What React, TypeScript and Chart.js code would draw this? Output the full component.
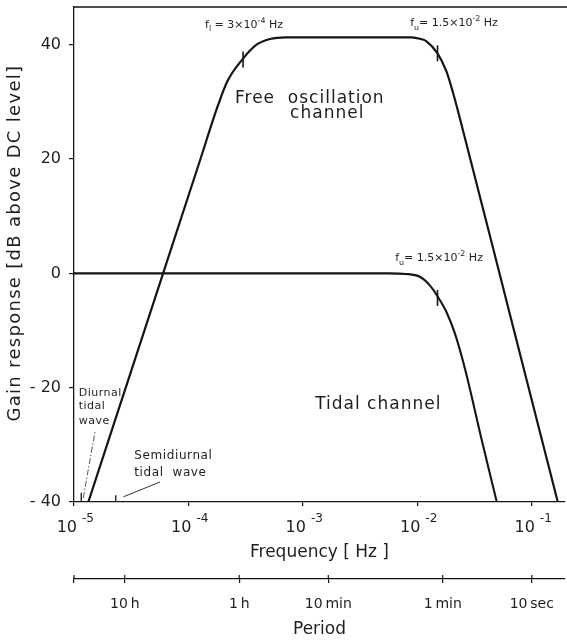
import React, { useEffect, useRef } from 'react';
import { Chart, registerables } from 'chart.js';

Chart.register(...registerables);

const FONT = "'DejaVu Sans', sans-serif";
const INK = '#151515';
const TEXT = '#1e1e1e';

const X_MIN = 1e-5;
const X_MAX = 0.195;
const Y_MIN = -40;
const Y_MAX = 46.6;

// Free oscillation channel (frequency in Hz, gain in dB)
const freeFreq = [1.334e-5, 5.012e-5, 1.259e-4, 1.82e-4, 2.188e-4, 2.951e-4, 3.936e-4, 5.152e-4, 7.079e-4, 8.913e-3, 1.072e-2, 1.202e-2, 1.5e-2, 1.799e-2, 2.056e-2, 2.432e-2, 6.31e-2, 0.1687];
const freeGain = [-40, -4.8, 19.7, 29.5, 33.6, 37.4, 40.0, 41.0, 41.3, 41.3, 41.0, 40.6, 38.5, 35.3, 31.5, 26.0, -6.5, -40];

// Tidal channel
const tidalFreq = [1e-5, 5.623e-3, 7.943e-3, 1.052e-2, 1.285e-2, 1.521e-2, 1.799e-2, 2.128e-2, 2.6e-2, 3.656e-2, 4.943e-2];
const tidalGain = [0, 0, -0.1, -0.6, -2.1, -4.2, -6.8, -10.5, -16.6, -29.2, -40];

// Corner-frequency markers
const markerFreq = [3e-4, 1.5e-2, 1.5e-2];
const markerGain = [37.4, 38.5, -4.3];

// Diurnal / semidiurnal tidal wave ticks
const tideFreq = [1.157e-5, 2.315e-5];
const tideTickTop = [-38.4, -38.8];

// Pointer lines
const diurnalPtrFreq = [1.205e-5, 1.535e-5];
const diurnalPtrGain = [-39.3, -27.4];
const semiPtrFreq = [2.7e-5, 5.64e-5];
const semiPtrGain = [-39.1, -36.5];

// Axes
const xTickValues = [1e-5, 1e-4, 1e-3, 1e-2, 1e-1];
const xTickExps = ['-5', '-4', '-3', '-2', '-1'];
const yTickValues = [-40, -20, 0, 20, 40];
const yTickLabels = ['- 40', '- 20', '0', '20', '40'];
const periodTickValues = [1e-5, 1 / 36000, 1 / 3600, 1 / 600, 1 / 60, 1 / 10];
const periodTickLabels = ['', '10\u2009h', '1\u2009h', '10\u2009min', '1\u2009min', '10\u2009sec'];

type Part = [string, number]; // 0 normal, 1 sub, 2 sup
type Note = { f: number; g: number; parts: Part[]; size: number; ls: number };

const notes: Note[] = [
  { f: 1.396e-4, g: 43.0, parts: [['f', 0], ['l', 1], [' = 3×10', 0], ['-4', 2], [' Hz', 0]], size: 11, ls: 0 },
  { f: 8.65e-3, g: 43.2, parts: [['f', 0], ['u', 1], ['= 1.5×10', 0], ['-2', 2], [' Hz', 0]], size: 11, ls: 0 },
  { f: 6.4e-3, g: 2.15, parts: [['f', 0], ['u', 1], ['= 1.5×10', 0], ['-2', 2], [' Hz', 0]], size: 11, ls: 0 },
  { f: 2.55e-4, g: 29.8, parts: [['Free  oscillation', 0]], size: 17, ls: 1 },
  { f: 7.73e-4, g: 27.2, parts: [['channel', 0]], size: 17, ls: 1 },
  { f: 1.28e-3, g: -23.7, parts: [['Tidal channel', 0]], size: 17, ls: 1 },
  { f: 1.099e-5, g: -21.4, parts: [['Diurnal', 0]], size: 11, ls: 0.5 },
  { f: 1.099e-5, g: -23.7, parts: [['tidal', 0]], size: 11, ls: 0.5 },
  { f: 1.099e-5, g: -26.3, parts: [['wave', 0]], size: 11, ls: 0.5 },
  { f: 3.365e-5, g: -32.4, parts: [['Semidiurnal', 0]], size: 12, ls: 0.6 },
  { f: 3.365e-5, g: -35.4, parts: [['tidal  wave', 0]], size: 12, ls: 0.6 },
];

function setLS(ctx: any, v: number) {
  try { ctx.letterSpacing = `${v}px`; } catch (e) { /* ignore */ }
}

function drawRich(ctx: CanvasRenderingContext2D, x: number, y: number, parts: Part[], size: number) {
  let cx = x;
  for (const [t, mode] of parts) {
    const s = mode ? size * 0.72 : size;
    const dy = mode === 1 ? size * 0.35 : mode === 2 ? -size * 0.45 : 0;
    ctx.font = `${s}px ${FONT}`;
    ctx.fillText(t, cx, y + dy);
    cx += ctx.measureText(t).width;
  }
}

const decorPlugin = {
  id: 'decor',
  afterDraw(chart: any) {
    const { ctx, chartArea, scales } = chart;
    const xs = scales.x;
    const ys = scales.y;
    const ps = scales.period;
    ctx.save();
    // top frame line
    ctx.strokeStyle = INK;
    ctx.lineWidth = 1.3;
    ctx.beginPath();
    ctx.moveTo(chartArea.left, chartArea.top);
    ctx.lineTo(chartArea.right + 2, chartArea.top);
    ctx.stroke();
    // upward half of period ticks + period labels
    ctx.lineWidth = 1.2;
    ctx.fillStyle = TEXT;
    ctx.textAlign = 'center';
    ctx.textBaseline = 'alphabetic';
    ctx.font = `14px ${FONT}`;
    periodTickValues.forEach((v, i) => {
      const px = ps.getPixelForValue(v);
      ctx.beginPath();
      ctx.moveTo(px, ps.top - 4);
      ctx.lineTo(px, ps.top);
      ctx.stroke();
      ctx.fillText(periodTickLabels[i], px, ps.top + 29.3);
    });
    // frequency tick labels with superscripts
    xTickValues.forEach((v, i) => {
      const px = xs.getPixelForValue(v);
      ctx.font = `16px ${FONT}`;
      ctx.textAlign = 'right';
      ctx.fillText('10', px + 3, xs.top + 29.7);
      ctx.textAlign = 'left';
      ctx.font = `12px ${FONT}`;
      ctx.fillText(xTickExps[i], px + 8, xs.top + 19.7);
    });
    // y axis title
    ctx.save();
    ctx.translate(15.5, ys.getPixelForValue(5.3));
    ctx.rotate(-Math.PI / 2);
    ctx.textAlign = 'center';
    ctx.textBaseline = 'middle';
    ctx.font = `18px ${FONT}`;
    setLS(ctx, 1.3);
    ctx.fillText('Gain response [dB above DC level]', 0, 0);
    setLS(ctx, 0);
    ctx.restore();
    // annotations
    ctx.textAlign = 'left';
    ctx.textBaseline = 'alphabetic';
    for (const n of notes) {
      setLS(ctx, n.ls);
      drawRich(ctx, xs.getPixelForValue(n.f), ys.getPixelForValue(n.g), n.parts, n.size);
    }
    setLS(ctx, 0);
    ctx.restore();
  },
};

const pts = (xs: number[], ys: number[]) => xs.map((x, i) => ({ x, y: ys[i] }));

export default function App() {
  const ref = useRef<HTMLCanvasElement>(null);
  useEffect(() => {
    const chart = new Chart(ref.current as HTMLCanvasElement, {
      type: 'line',
      data: {
        datasets: [
          {
            label: 'Free oscillation channel',
            data: pts(freeFreq, freeGain),
            borderColor: INK,
            borderWidth: 2.2,
            pointRadius: 0,
            cubicInterpolationMode: 'monotone',
            xAxisID: 'x',
            yAxisID: 'y',
          },
          {
            label: 'Tidal channel',
            data: pts(tidalFreq, tidalGain),
            borderColor: INK,
            borderWidth: 2.1,
            pointRadius: 0,
            cubicInterpolationMode: 'monotone',
            xAxisID: 'x',
            yAxisID: 'y',
          },
          {
            label: 'Corner frequencies',
            data: pts(markerFreq, markerGain),
            showLine: false,
            pointStyle: 'line',
            rotation: 90,
            pointRadius: 8,
            pointBorderWidth: 1.6,
            pointBorderColor: INK,
            borderColor: INK,
            xAxisID: 'x',
            yAxisID: 'y',
          },
          ...tideFreq.map((f, i) => ({
            label: i === 0 ? 'Diurnal tidal wave' : 'Semidiurnal tidal wave',
            data: [{ x: f, y: Y_MIN }, { x: f, y: tideTickTop[i] }],
            borderColor: INK,
            borderWidth: 1.3,
            pointRadius: 0,
            xAxisID: 'x',
            yAxisID: 'y',
          })),
          {
            label: 'Diurnal pointer',
            data: pts(diurnalPtrFreq, diurnalPtrGain),
            borderColor: '#555',
            borderWidth: 1,
            borderDash: [6, 2, 1.5, 2],
            pointRadius: 0,
            xAxisID: 'x',
            yAxisID: 'y',
          },
          {
            label: 'Semidiurnal pointer',
            data: pts(semiPtrFreq, semiPtrGain),
            borderColor: '#333',
            borderWidth: 1,
            pointRadius: 0,
            xAxisID: 'x',
            yAxisID: 'y',
          },
        ] as any,
      },
      options: {
        animation: false,
        responsive: true,
        maintainAspectRatio: false,
        layout: { autoPadding: false, padding: { left: 0, right: 2, top: 7, bottom: 0 } },
        plugins: { legend: { display: false }, tooltip: { enabled: false } },
        scales: {
          x: {
            type: 'logarithmic',
            position: 'bottom',
            weight: 0,
            min: X_MIN,
            max: X_MAX,
            afterBuildTicks: (s: any) => { s.ticks = xTickValues.map((v) => ({ value: v })); },
            afterFit: (s: any) => { s.height = 77; s.paddingLeft = 0; s.paddingRight = 0; },
            ticks: { display: false },
            grid: { display: true, drawOnChartArea: false, drawTicks: true, tickLength: 4, color: INK, lineWidth: 1.2 },
            border: { display: true, color: INK, width: 1.3 },
            title: {
              display: true,
              text: 'Frequency [ Hz ]',
              color: TEXT,
              font: { family: FONT, size: 17 },
              padding: { top: 0, bottom: 16 },
            },
          },
          period: {
            type: 'logarithmic',
            axis: 'x',
            position: 'bottom',
            weight: 1,
            min: X_MIN,
            max: X_MAX,
            afterBuildTicks: (s: any) => { s.ticks = periodTickValues.map((v) => ({ value: v })); },
            afterFit: (s: any) => { s.height = 63; s.paddingLeft = 0; s.paddingRight = 0; },
            ticks: { display: false },
            grid: { display: true, drawOnChartArea: false, drawTicks: true, tickLength: 4, color: INK, lineWidth: 1.2 },
            border: { display: true, color: INK, width: 1.3 },
            title: {
              display: true,
              text: 'Period',
              color: TEXT,
              font: { family: FONT, size: 17 },
              padding: { top: 0, bottom: 2 },
            },
          },
          y: {
            type: 'linear',
            position: 'left',
            min: Y_MIN,
            max: Y_MAX,
            afterBuildTicks: (s: any) => { s.ticks = yTickValues.map((v) => ({ value: v })); },
            afterFit: (s: any) => { s.width = 74; s.paddingTop = 0; s.paddingBottom = 0; },
            ticks: {
              callback: (_v: any, i: number) => yTickLabels[i],
              color: TEXT,
              font: { family: FONT, size: 16 },
              padding: 8,
            },
            grid: { display: true, drawOnChartArea: false, drawTicks: true, tickLength: 5, color: INK, lineWidth: 1.2 },
            border: { display: true, color: INK, width: 1.3 },
          },
        },
      } as any,
      plugins: [decorPlugin],
    });
    return () => chart.destroy();
  }, []);
  return (
    <div style={{ position: 'fixed', left: 0, top: 0, width: 567, height: 642, background: '#fff' }}>
      <canvas ref={ref} />
    </div>
  );
}
